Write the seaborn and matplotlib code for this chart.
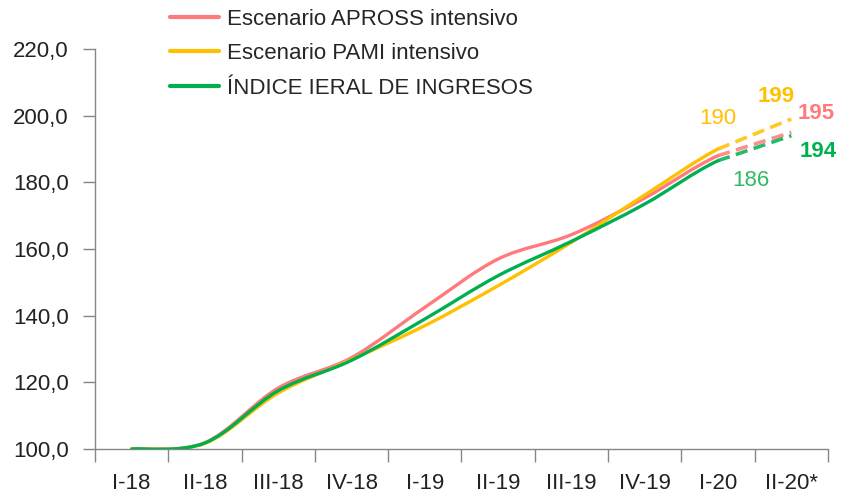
import numpy as np
import pandas as pd
import matplotlib
matplotlib.use("Agg")
import matplotlib.pyplot as plt
from matplotlib.path import Path
from matplotlib.patches import PathPatch
from matplotlib.lines import Line2D
import seaborn as sns

# data
quarters = ["I-18", "II-18", "III-18", "IV-18", "I-19", "II-19", "III-19", "IV-19", "I-20", "II-20*"]
apross = [100.0, 101.9, 118.3, 127.4, 142.5, 157.0, 164.3, 175.3, 188.0, 195.0]
pami = [100.0, 101.7, 116.8, 126.8, 137.0, 149.0, 162.0, 176.2, 190.0, 199.0]
ieral = [100.0, 101.8, 117.5, 126.6, 139.0, 152.0, 162.3, 173.5, 186.5, 194.0]
names = ["Escenario APROSS intensivo", "Escenario PAMI intensivo", "ÍNDICE IERAL DE INGRESOS"]
colors = ["#FF7A7C", "#FFC000", "#00B050"]

sns.set_style("white")
plt.rcParams['font.family'] = ['Liberation Sans', 'DejaVu Sans']

df = pd.DataFrame({"x": np.arange(len(quarters)), "APROSS": apross, "PAMI": pami, "IERAL": ieral})

fig = plt.figure(figsize=(8.45, 4.95), dpi=100)
ax = fig.add_axes([95/845, 1-449/495, (828-95)/845, 400/495])


def smooth_path(xs, ys, i0, i1):
    # excel-like smoothed line: cubic bezier through the points
    n = len(xs)
    verts = [(xs[i0], ys[i0])]
    codes = [Path.MOVETO]
    for i in range(i0, i1):
        a = max(i-1, 0); d = min(i+2, n-1)
        c1 = (xs[i] + (xs[i+1]-xs[a])/6, ys[i] + (ys[i+1]-ys[a])/6)
        c2 = (xs[i+1] - (xs[d]-xs[i])/6, ys[i+1] - (ys[d]-ys[i])/6)
        verts += [c1, c2, (xs[i+1], ys[i+1])]
        codes += [Path.CURVE4]*3
    return Path(verts, codes)


for col, k in [("APROSS", 0), ("PAMI", 1), ("IERAL", 2)]:
    xs = df["x"].values.astype(float); ys = df[col].values
    ax.add_patch(PathPatch(smooth_path(xs, ys, 0, len(xs)-2), fill=False,
                           edgecolor=colors[k], lw=2.4, capstyle='round', zorder=3+k))
    tail = df.iloc[-2:]
    sns.lineplot(data=tail, x="x", y=col, ax=ax, color=colors[k], lw=2.6,
                 linestyle=(0, (3.4, 1.8)), alpha=0.85, zorder=3+k)

ax.set_xlim(-0.5, len(quarters)-0.5)
ax.set_ylim(100, 220)
yt = np.arange(100, 221, 20)
ax.set_yticks(yt)
ax.set_yticklabels([f"{v:.1f}".replace(".", ",") for v in yt])
ax.set_xticks(np.arange(len(quarters)))
ax.set_xticklabels(quarters)
ax.set_xticks(np.arange(-0.5, len(quarters)), minor=True)
ax.tick_params(axis='x', which='major', bottom=False, length=0, pad=17, labelsize=16, colors='#222222')
ax.tick_params(axis='x', which='minor', bottom=True, length=9, width=1, color='#868686', direction='out')
ax.tick_params(axis='y', left=True, length=9, width=1, pad=10, labelsize=16,
               labelcolor='#222222', color='#868686', direction='out')
ax.set_xlabel(""); ax.set_ylabel("")
for s in ["top", "right"]:
    ax.spines[s].set_visible(False)
for s in ["left", "bottom"]:
    ax.spines[s].set_color('#868686')
    ax.spines[s].set_linewidth(1)

# value labels
labs = [
    (8, pami[8], "190", colors[1], "normal", (0, 30)),
    (9, pami[9], "199", colors[1], "bold", (-15, 23)),
    (9, apross[9], "195", colors[0], "bold", (25, 19)),
    (9, ieral[9], "194", colors[2], "bold", (27, -16)),
    (8, ieral[8], "186", "#33B865", "normal", (33, -20)),
]
for x, y, t, c, w, off in labs:
    ax.annotate(t, (x, y), xytext=off, textcoords='offset pixels', ha='center', va='center',
                color=c, fontsize=16, fontweight=w)

handles = [Line2D([], [], color=c, lw=3) for c in colors]
fig.legend(handles, names, loc='upper left', bbox_to_anchor=(161/845, 1.0), frameon=False,
           fontsize=16, handlelength=2.2, handletextpad=0.35, labelspacing=0.6, borderaxespad=0.0)

fig.savefig("out.png", dpi=100)
